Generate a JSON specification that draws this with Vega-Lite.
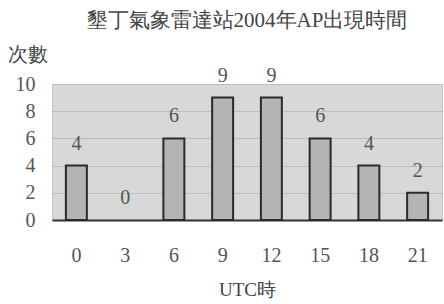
{
  "$schema": "https://vega.github.io/schema/vega-lite/v6.json",
  "autosize": "none",
  "width": 390,
  "height": 136,
  "padding": {"left": 52, "top": 84, "right": 2, "bottom": 84},
  "background": "white",
  "title": {
    "text": "墾丁氣象雷達站2004年AP出現時間",
    "font": "'Liberation Serif', 'DejaVu Serif', serif",
    "fontSize": 21,
    "fontWeight": "normal",
    "color": "#444",
    "anchor": "middle",
    "frame": "group",
    "offset": 13
  },
  "config": {
    "view": {"fill": "#d8d8d8", "stroke": "#c4c4c4"},
    "font": "'Liberation Serif', 'DejaVu Serif', serif"
  },
  "data": {
    "values": [
      {"hour": "0", "count": 4},
      {"hour": "3", "count": 0},
      {"hour": "6", "count": 6},
      {"hour": "9", "count": 9},
      {"hour": "12", "count": 9},
      {"hour": "15", "count": 6},
      {"hour": "18", "count": 4},
      {"hour": "21", "count": 2}
    ]
  },
  "encoding": {
    "x": {
      "field": "hour",
      "type": "ordinal",
      "sort": ["0", "3", "6", "9", "12", "15", "18", "21"],
      "scale": {"paddingInner": 0.57, "paddingOuter": 0.285},
      "axis": {
        "title": "UTC時",
        "titleFont": "'Liberation Serif', 'DejaVu Serif', serif",
        "titleFontSize": 19,
        "titleFontWeight": "normal",
        "titleColor": "#444",
        "titlePadding": 15,
        "labelAngle": 0,
        "labelFont": "'Liberation Serif', 'DejaVu Serif', serif",
        "labelFontSize": 20,
        "labelColor": "#555",
        "labelPadding": 25,
        "ticks": false,
        "domain": true,
        "domainColor": "#333",
        "domainWidth": 2
      }
    },
    "y": {
      "field": "count",
      "type": "quantitative",
      "scale": {"domain": [0, 10], "nice": false},
      "axis": {
        "values": [0, 2, 4, 6, 8, 10],
        "title": "次數",
        "titleAngle": 0,
        "titleX": -45,
        "titleY": -30,
        "titleAlign": "left",
        "titleBaseline": "middle",
        "titleFont": "'Liberation Serif', 'DejaVu Serif', serif",
        "titleFontSize": 20,
        "titleFontWeight": "normal",
        "titleColor": "#444",
        "labelFont": "'Liberation Serif', 'DejaVu Serif', serif",
        "labelFontSize": 20,
        "labelColor": "#555",
        "labelPadding": 17,
        "ticks": false,
        "domain": false,
        "grid": true,
        "gridColor": "#bcbcbc",
        "gridWidth": 1
      }
    }
  },
  "layer": [
    {
      "mark": {"type": "bar", "fill": "#b4b4b4", "stroke": "#2a2a2a", "strokeWidth": 2},
      "encoding": {
        "strokeOpacity": {"condition": {"test": "datum.count == 0", "value": 0}, "value": 1}
      }
    },
    {
      "mark": {"type": "text", "dy": -22, "baseline": "middle", "fontSize": 20, "font": "'Liberation Serif', 'DejaVu Serif', serif", "color": "#555"},
      "encoding": {"text": {"field": "count", "type": "quantitative"}}
    }
  ]
}
